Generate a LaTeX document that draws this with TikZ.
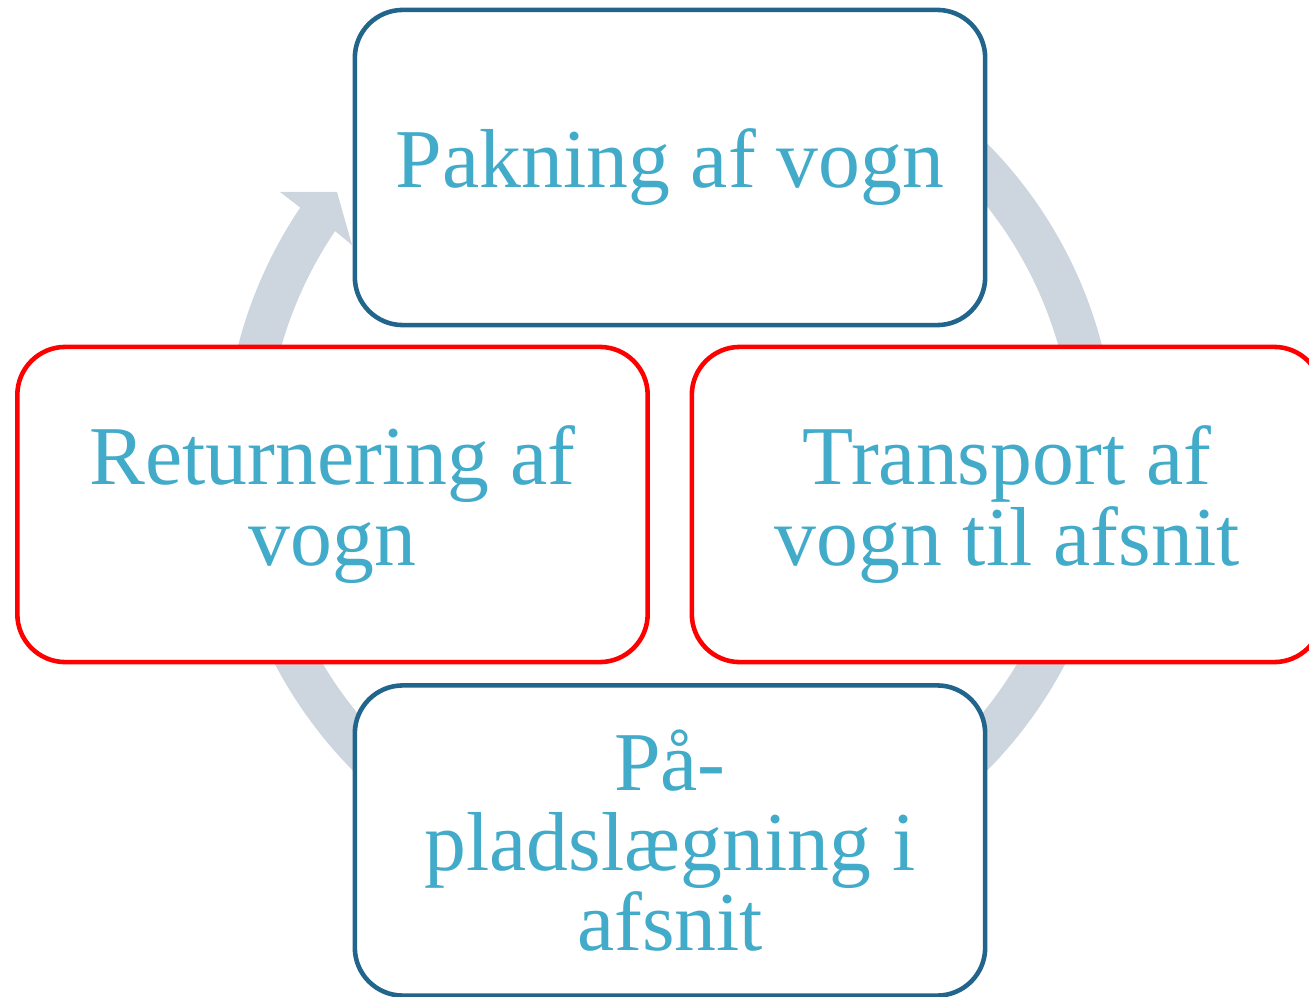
\documentclass[tikz,border=0pt]{standalone}
\usepackage{fontspec}
\setmainfont{Liberation Serif}
\usetikzlibrary{calc}
\definecolor{ringc}{RGB}{205,213,223}
\definecolor{bluec}{RGB}{33,100,140}
\definecolor{redc}{RGB}{255,0,0}
\definecolor{textc}{RGB}{66,171,201}
\tikzset{
  stagebox/.style={draw, line width=1.3pt, fill=white, rounded corners=0.48cm,
    minimum width=6.3cm, minimum height=3.15cm, align=center, text=textc,
    font=\fontsize{23.8}{22.8}\selectfont, inner sep=0pt},
  bluebox/.style={stagebox, draw=bluec},
  redbox/.style={stagebox, draw=redc},
  ringfill/.style={fill=ringc}
}
\begin{document}
\begin{tikzpicture}[x=0.01cm, y=-0.01cm]
\useasboundingbox (0,0) rectangle (1309,997);
\clip (0,0) rectangle (1309,997);
\coordinate (c) at (670,457);
\coordinate (h1) at (280,192);
\coordinate (h2) at (337,192);
\coordinate (h3) at (352,245);
\fill[ringfill] (c) ++(-90:446) arc[start angle=-90, end angle=214, radius=446]
  -- (h1) -- (h2) -- (h3) -- ($(c)+(214:404)$)
  arc[start angle=214, end angle=-90, radius=404] -- cycle;
\node[bluebox] (pak) at (670,167.5) {Pakning af vogn};
\node[redbox] (trans) at (1007,504.5) {Transport af\\vogn til afsnit};
\node[bluebox, minimum height=3.1cm] (plads) at (670,840.5) {På-\\pladslægning i\\afsnit};
\node[redbox] (ret) at (332.5,504.5) {Returnering af\\vogn};
\end{tikzpicture}
\end{document}
